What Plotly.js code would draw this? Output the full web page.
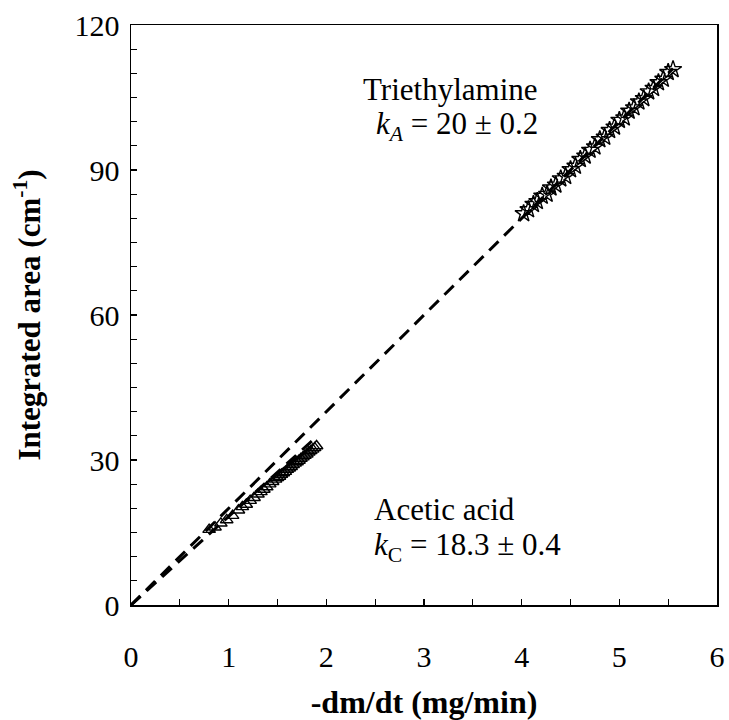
<!DOCTYPE html>
<html>
<head>
<meta charset="utf-8">
<script src="https://cdn.plot.ly/plotly-3.0.1.min.js"></script>
<style>html,body{margin:0;padding:0;background:#fff;}</style>
</head>
<body>
<div id="chart" style="width:729px;height:720px;"></div>
<script>
const triX = [4.02,4.07,4.12,4.16,4.21,4.26,4.30,4.35,4.40,4.45,4.50,4.55,4.60,4.65,4.70,4.75,4.80,4.85,4.90,4.95,5.00,5.05,5.10,5.15,5.20,5.25,5.30,5.35,5.40,5.45,5.50,5.55];
const triY = [81.0,81.8,82.9,83.5,84.6,85.0,86.3,86.9,88.2,88.7,90.1,90.8,92.2,92.9,94.1,94.8,96.3,96.8,98.2,98.9,100.3,100.8,102.2,102.9,104.1,104.8,106.2,106.9,108.1,108.8,110.2,110.8];
const acX = [0.80,0.86,0.92,0.98,1.04,1.10,1.14,1.18,1.22,1.26,1.30,1.33,1.36,1.39,1.42,1.45,1.48,1.50,1.52,1.54,1.56,1.58,1.60,1.62,1.64,1.66,1.68,1.70,1.72,1.74,1.76,1.78,1.80,1.82,1.84,1.86,1.88,1.90];
const acY = [15.6,16.1,16.9,17.6,18.5,19.6,20.3,20.8,21.6,22.2,22.9,23.4,23.9,24.4,25.0,25.5,26.0,26.3,26.6,27.0,27.3,27.6,28.0,28.3,28.6,29.0,29.3,29.6,29.9,30.3,30.6,30.9,31.2,31.6,31.9,32.2,32.5,32.9];
const fitAX = [0, 5.55];
const fitAY = [0, 111];
const fitCX = [0, 1.9];
const fitCY = [0, 34.8];
const xTicks = [0,1,2,3,4,5,6];
const yTicks = [0,30,60,90,120];

const serif = "'Liberation Serif', 'Times New Roman', serif";

const traces = [
  {x: fitCX, y: fitCY, mode: 'lines', line: {color: '#000', width: 3, dash: '13px,8px'}, hoverinfo: 'skip'},
  {x: fitAX, y: fitAY, mode: 'lines', line: {color: '#000', width: 3, dash: '13px,8px'}, hoverinfo: 'skip'},
  {x: acX, y: acY, mode: 'markers', marker: {symbol: 'triangle-up-open', size: 11, color: '#000', line: {width: 1.4, color: '#000'}}},
  {x: triX, y: triY, mode: 'markers', marker: {symbol: 'star-open', size: 13, color: '#000', line: {width: 1.4, color: '#000'}}}
];

const axisCommon = {
  showline: true, mirror: true, linecolor: '#000', linewidth: 1.5,
  ticks: 'inside', ticklen: 6, tickwidth: 1.2, tickcolor: '#000',
  showgrid: false, zeroline: false,
  tickfont: {family: serif, size: 30, color: '#000'}
};

const layout = {
  width: 729, height: 720,
  margin: {l: 131, r: 12, t: 25, b: 115},
  paper_bgcolor: '#fff', plot_bgcolor: '#fff',
  showlegend: false,
  xaxis: Object.assign({}, axisCommon, {
    range: [0, 6], tickvals: xTicks, ticktext: xTicks.map(String),
    ticklabelstandoff: 24,
    minor: {dtick: 0.5, ticks: 'inside', ticklen: 6, tickwidth: 1.2, tickcolor: '#000'},
    title: {text: '<b>-dm/dt (mg/min)</b>', font: {family: serif, size: 32, color: '#000'}, standoff: 20},
    automargin: false
  }),
  yaxis: Object.assign({}, axisCommon, {
    range: [0, 120], tickvals: yTicks, ticktext: yTicks.map(String),
    ticklabelstandoff: 4,
    minor: {dtick: 5, ticks: 'inside', ticklen: 6, tickwidth: 1.2, tickcolor: '#000'},
    title: {text: '<b>Integrated area (cm<sup>-1</sup>)</b>', font: {family: serif, size: 31, color: '#000'}, standoff: 24},
    automargin: false
  }),
  annotations: [
    {xref: 'paper', yref: 'paper', x: 0.698, y: 0.888, xanchor: 'right', yanchor: 'middle', showarrow: false,
     text: 'Triethylamine', font: {family: serif, size: 31, color: '#000'}},
    {xref: 'paper', yref: 'paper', x: 0.698, y: 0.826, xanchor: 'right', yanchor: 'middle', showarrow: false,
     text: '<i>k<sub>A</sub></i> = 20 ± 0.2', font: {family: serif, size: 31, color: '#000'}},
    {xref: 'paper', yref: 'paper', x: 0.411, y: 0.164, xanchor: 'left', yanchor: 'middle', showarrow: false,
     text: 'Acetic acid', font: {family: serif, size: 31, color: '#000'}},
    {xref: 'paper', yref: 'paper', x: 0.411, y: 0.100, xanchor: 'left', yanchor: 'middle', showarrow: false,
     text: '<i>k</i><sub>C</sub> = 18.3 ± 0.4', font: {family: serif, size: 31, color: '#000'}}
  ]
};

Plotly.newPlot('chart', traces, layout, {displayModeBar: false, staticPlot: true});
</script>
</body>
</html>
